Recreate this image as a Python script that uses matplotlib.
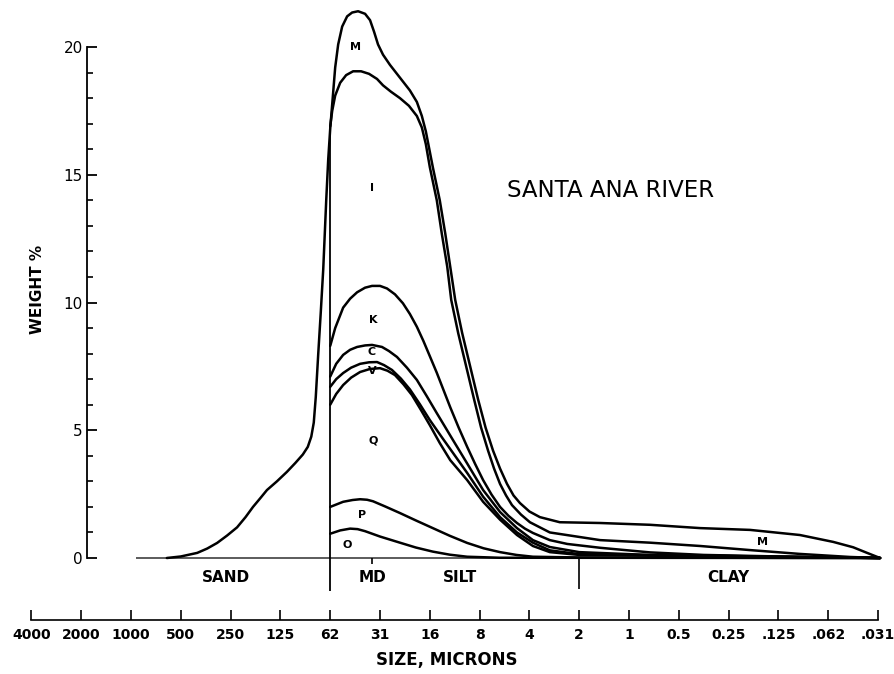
import matplotlib
matplotlib.use("Agg")
import matplotlib.pyplot as plt
from matplotlib.ticker import FixedLocator

# size classes on the phi scale (phi = -log2 of size in mm)
size_phi = list(range(-2, 16))
size_labels = ['4000', '2000', '1000', '500', '250', '125', '62', '31', '16',
               '8', '4', '2', '1', '0.5', '0.25', '.125', '.062', '.031']

# cumulative weight-% curves
total_phi = [0.72, 1.0, 1.33, 1.53, 1.73, 1.93, 2.13, 2.3, 2.45, 2.6, 2.73, 2.93,
             3.13, 3.3, 3.45, 3.55, 3.62, 3.67, 3.71,
             3.76, 3.81, 3.86, 3.92, 3.96, 4.00, 4.05, 4.10, 4.16, 4.24, 4.34, 4.44,
             4.56, 4.70, 4.80, 4.88, 4.96, 5.06, 5.20, 5.40, 5.60, 5.74, 5.84, 5.92,
             5.99, 6.06, 6.20, 6.31, 6.41, 6.51, 6.65, 6.81, 6.97, 7.12, 7.27, 7.41,
             7.55, 7.68, 7.81, 8.0, 8.21, 8.61, 9.42, 10.42, 11.43, 12.43, 13.43,
             14.10, 14.5, 14.78, 15.04]
total_wt = [0, 0.06, 0.2, 0.37, 0.59, 0.88, 1.2, 1.6, 2.0, 2.35, 2.66, 3.0,
            3.37, 3.72, 4.05, 4.35, 4.75, 5.3, 6.3,
            8.0, 9.6, 11.3, 14.0, 15.6, 16.8, 18.0, 19.2, 20.1, 20.8, 21.2, 21.35,
            21.4, 21.3, 21.05, 20.6, 20.1, 19.7, 19.3, 18.8, 18.3, 17.85, 17.3, 16.7,
            16.0, 15.3, 14.0, 12.7, 11.4, 10.1, 8.8, 7.5, 6.2, 5.1, 4.2, 3.5,
            2.9, 2.45, 2.15, 1.82, 1.6, 1.4, 1.37, 1.3, 1.17, 1.1, 0.9,
            0.63, 0.42, 0.2, 0]

i_phi = [4.00, 4.04, 4.10, 4.20, 4.32, 4.46, 4.62, 4.78, 4.94, 5.06, 5.22, 5.40,
         5.58, 5.74, 5.84, 5.92, 6.00, 6.14, 6.24, 6.35, 6.43, 6.57, 6.73, 6.89,
         7.03, 7.17, 7.29, 7.41, 7.53, 7.65, 7.83, 8.01, 8.41, 9.42, 10.42, 11.43,
         12.43, 13.43, 14.44, 15.04]
i_wt = [16.9, 17.5, 18.1, 18.6, 18.9, 19.05, 19.05, 18.95, 18.75, 18.5, 18.25, 18.0,
        17.7, 17.3, 16.85, 16.2, 15.3, 14.0, 12.7, 11.4, 10.1, 8.8, 7.5, 6.2,
        5.1, 4.2, 3.5, 2.9, 2.45, 2.07, 1.7, 1.4, 1.0, 0.7, 0.6, 0.47,
        0.31, 0.16, 0.04, 0]

k_phi = [4.0, 4.1, 4.26, 4.4, 4.54, 4.70, 4.84, 5.0, 5.14, 5.30, 5.46, 5.60, 5.74,
         5.87, 6.0, 6.14, 6.27, 6.41, 6.58, 6.75, 6.91, 7.07, 7.24, 7.41, 7.58,
         7.75, 7.91, 8.07, 8.41, 8.76, 9.42, 10.42, 11.5, 13.0, 15.04]
k_wt = [8.3, 9.0, 9.8, 10.15, 10.4, 10.58, 10.65, 10.65, 10.55, 10.32, 9.97, 9.55, 9.05,
        8.5, 7.9, 7.25, 6.6, 5.9, 5.1, 4.35, 3.68, 3.05, 2.48, 2.0, 1.65,
        1.37, 1.15, 0.98, 0.7, 0.55, 0.4, 0.22, 0.12, 0.06, 0]

c_phi = [4.0, 4.12, 4.26, 4.40, 4.54, 4.70, 4.84, 5.04, 5.18, 5.34, 5.54, 5.74,
         5.94, 6.14, 6.31, 6.47, 6.75, 7.07, 7.41, 7.75, 8.07, 8.41, 9.0, 10.4, 15.04]
c_wt = [7.1, 7.6, 7.95, 8.15, 8.26, 8.32, 8.34, 8.26, 8.1, 7.87, 7.45, 6.97,
        6.33, 5.67, 5.12, 4.6, 3.7, 2.66, 1.8, 1.17, 0.7, 0.43, 0.23, 0.12, 0]

v_phi = [4.0, 4.12, 4.26, 4.42, 4.6, 4.78, 4.94, 5.08, 5.24, 5.42, 5.6, 5.8,
         6.0, 6.24, 6.47, 6.75, 7.07, 7.41, 7.75, 8.07, 8.41, 9.0, 15.04]
v_wt = [6.7, 7.0, 7.24, 7.45, 7.6, 7.66, 7.67, 7.55, 7.36, 7.02, 6.6, 6.02,
        5.4, 4.73, 4.1, 3.33, 2.4, 1.6, 1.0, 0.6, 0.3, 0.15, 0]

q_phi = [4.0, 4.12, 4.26, 4.42, 4.6, 4.8, 5.0, 5.15, 5.3, 5.47, 5.64, 5.82,
         6.0, 6.2, 6.41, 6.75, 7.07, 7.41, 7.75, 8.07, 8.41, 9.0, 15.04]
q_wt = [6.0, 6.42, 6.77, 7.06, 7.28, 7.4, 7.43, 7.33, 7.16, 6.8, 6.38, 5.8,
        5.2, 4.5, 3.83, 3.05, 2.2, 1.5, 0.9, 0.47, 0.23, 0.12, 0]

p_phi = [4.0, 4.26, 4.45, 4.6, 4.74, 4.86, 5.1, 5.4, 5.72, 6.06, 6.4, 6.75,
         7.08, 7.41, 7.74, 8.07, 9.0, 15.04]
p_wt = [2.0, 2.2, 2.27, 2.3, 2.28, 2.22, 2.02, 1.76, 1.47, 1.17, 0.87, 0.59,
        0.38, 0.23, 0.12, 0.05, 0.02, 0]

o_phi = [4.0, 4.2, 4.4, 4.55, 4.7, 5.0, 5.4, 5.72, 6.06, 6.4, 6.75, 7.4, 15.04]
o_wt = [0.95, 1.08, 1.15, 1.13, 1.05, 0.84, 0.6, 0.41, 0.25, 0.13, 0.05, 0.01, 0]

curves = [(total_phi, total_wt), (i_phi, i_wt), (k_phi, k_wt), (c_phi, c_wt),
          (v_phi, v_wt), (q_phi, q_wt), (p_phi, p_wt), (o_phi, o_wt)]

# region letters and where they sit
region_names = ['M', 'I', 'K', 'C', 'V', 'Q', 'P', 'O', 'M']
region_phi = [4.5, 4.84, 4.86, 4.84, 4.84, 4.86, 4.64, 4.34, 12.67]
region_wt = [20.0, 14.5, 9.3, 8.05, 7.3, 4.6, 1.7, 0.5, 0.63]

classes = ['SAND', 'MD', 'SILT', 'CLAY']
class_phi = [1.9, 4.84, 6.6, 12.0]

weight_ticks = [0, 5, 10, 15, 20]
weight_minor = list(range(0, 21))

fig = plt.figure(figsize=(8.95, 6.74), dpi=100)
ax = fig.add_axes([0, 0, 1, 1])
ax.set_xlim(-2.63, 15.34)
ax.set_ylim(-4.54, 21.84)

for s in ['top', 'right', 'bottom']:
    ax.spines[s].set_visible(False)
ax.spines['left'].set_position(('data', -0.88))
ax.spines['left'].set_bounds(0, 20)
ax.spines['left'].set_linewidth(1.3)
ax.set_xticks([])
ax.set_yticks(weight_ticks)
ax.yaxis.set_minor_locator(FixedLocator(weight_minor))
ax.tick_params(axis='y', which='major', direction='in', length=7, width=1.3,
               labelsize=11, pad=3)
ax.tick_params(axis='y', which='minor', direction='in', length=4.5, width=1.2)
ax.set_ylabel('WEIGHT %', fontsize=11, fontweight='bold')
ax.yaxis.set_label_coords(0.05, 0.57)

# baseline and boundaries
ax.hlines(0, 0.1, 15.04, color='0.25', lw=1.2)
ax.vlines(4.0, -1.3, 16.9, color='k', lw=1.3)
ax.vlines(9.0, -1.2, 0, color='k', lw=1.2)
ax.vlines(4.84, -0.25, 0, color='k', lw=1.2)

for xs, ys in curves:
    ax.plot(xs, ys, color='k', lw=1.8, solid_joinstyle='round', solid_capstyle='round')

for name, x, y in zip(region_names, region_phi, region_wt):
    ax.text(x, y, name, fontsize=8, fontweight='bold', ha='center', va='center')

for name, x in zip(classes, class_phi):
    ax.text(x, -0.78, name, fontsize=11, fontweight='bold', ha='center', va='center')

ax.text(9.62, 14.4, 'SANTA ANA RIVER', fontsize=16.5, ha='center', va='center')

# bottom size scale
ax2 = fig.add_axes([0, (674 - 620) / 674, 1, 0.001])
ax2.set_xlim(-2.63, 15.34)
ax2.patch.set_visible(False)
for s in ['top', 'right', 'left']:
    ax2.spines[s].set_visible(False)
ax2.spines['bottom'].set_bounds(-2, 15)
ax2.spines['bottom'].set_linewidth(1.2)
ax2.set_yticks([])
ax2.set_xticks(size_phi)
ax2.set_xticklabels(size_labels, fontsize=10, fontweight='bold')
ax2.tick_params(axis='x', direction='in', length=7, width=1.2, pad=6)

fig.text(447 / 895, (674 - 660) / 674, 'SIZE, MICRONS', fontsize=12,
         fontweight='bold', ha='center', va='center')

fig.savefig('out.png', dpi=100)
